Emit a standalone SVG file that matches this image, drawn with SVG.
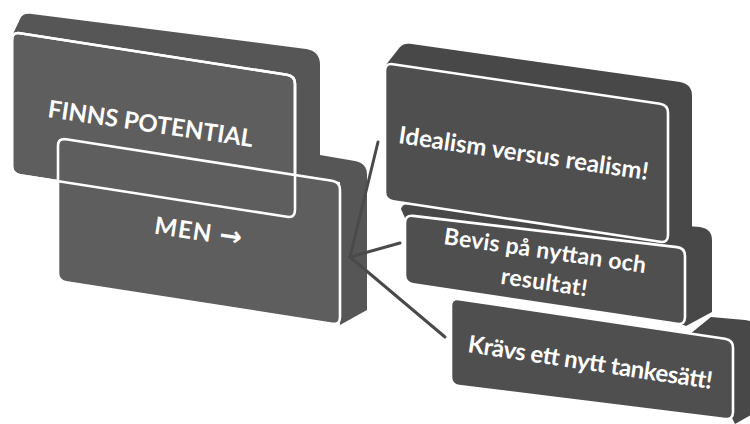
<svg xmlns="http://www.w3.org/2000/svg" xmlns:xlink="http://www.w3.org/1999/xlink" width="750" height="424" viewBox="0 0 750 424">
<style>
.lface{fill:#5e5e5e}
.lslab{fill:#565656}
.rface{fill:#4f4f4f}
.rslab{fill:#484848}
.ol{fill:none;stroke:#ffffff;stroke-width:2.6}
.conn{stroke:#4a4a4a;stroke-width:3;fill:none;stroke-linecap:round}
.t{fill:#ffffff;font-family:Lato,"Open Sans","Liberation Sans",sans-serif;font-weight:700;text-anchor:middle}
.arr{font-family:"DejaVu Sans",sans-serif;font-weight:bold}
</style>
<rect width="750" height="424" fill="#ffffff"/>
<g id="node-finns">
<path class="lslab" d="M12,36 L21,17 Q24,13 30,13.8 L306,49 Q320,51 320,65 L320,205 L295,218 Z"/>
<path class="lface" d="M12,40 Q12,32 20,33.2 L287,74.8 Q295,76 295,84 L295,210 Q295,218 287,216.8 L20,175.2 Q12,174 12,166 Z"/>
<path id="finns-ol" class="ol" d="M12,40 Q12,32 20,33.2 L287,74.8 Q295,76 295,84 L295,210 Q295,218 287,216.8 L20,175.2 Q12,174 12,166 Z"/>
<text class="t" transform="translate(149.5,132) rotate(8.3)" font-size="24" textLength="207" lengthAdjust="spacing">FINNS POTENTIAL</text>
</g>
<g id="node-men">
<path class="lslab" d="M320,155 L355,161 Q367,163 367,175 L367,310 L340,325 L340,182 L320,179 Z"/>
<path class="lface" d="M58,146 Q58,138 66,139.25 L332,180.75 Q340,182 340,190 L340,317 Q340,325 332,323.75 L66,282.25 Q58,281 58,273 Z"/>
<path class="ol" d="M58,146 Q58,138 66,139.25 L332,180.75 Q340,182 340,190 L340,317 Q340,325 332,323.75 L66,282.25 Q58,281 58,273 Z"/>
<text class="t" transform="translate(197,240) rotate(8.5)" font-size="24" textLength="88" lengthAdjust="spacing">MEN <tspan class="arr" font-size="27">→</tspan></text>
</g>
<use xlink:href="#finns-ol"/>
<g id="connectors">
<line class="conn" x1="350" y1="257" x2="378" y2="142"/>
<line class="conn" x1="350" y1="257" x2="400" y2="243"/>
<line class="conn" x1="350" y1="257" x2="445" y2="337"/>
</g>
<g id="node-kravs">
<path class="rslab" d="M690,334 L711,317 L745,320 Q760,322 760,330 L760,410 L735,424 Z"/>
<path class="rface" d="M451,306 Q451,298 459,299.2 L725,338.8 Q733,340 733,348 L733,412 Q733,420 725,419 L459,386 Q451,385 451,377 Z"/>
<path class="ol" d="M451,306 Q451,298 459,299.2 L725,338.8 Q733,340 733,348 L733,412 Q733,420 725,419 L459,386 Q451,385 451,377 Z"/>
<text class="t" transform="translate(589,370.5) rotate(8.6)" font-size="24" textLength="247" lengthAdjust="spacing">Krävs ett nytt tankesätt!</text>
</g>
<g id="node-bevis">
<path class="rslab" d="M405,218 L401,209 Q402,204 408,204.3 L700,227 Q712,229 712,240 L712,312 L686,326 Z"/>
<path class="rface" d="M405,223 Q405,215 413,215.9 L677,247.1 Q685,248 685,256 L685,317 Q685,325 677,323.8 L413,284.2 Q405,283 405,275 Z"/>
<path class="ol" d="M405,223 Q405,215 413,215.9 L677,247.1 Q685,248 685,256 L685,317 Q685,325 677,323.8 L413,284.2 Q405,283 405,275 Z"/>
<text class="t" transform="translate(544,258.5) rotate(8.2)" font-size="23" textLength="204" lengthAdjust="spacing">Bevis på nyttan och</text>
<text class="t" transform="translate(543,290) rotate(8.4)" font-size="23" textLength="87" lengthAdjust="spacing">resultat!</text>
</g>
<g id="node-idealism">
<path class="rslab" d="M385,66 L400,47 Q404,43 410,43.8 L680,82 Q692,84 692,96 L692,228 L668,243 Z"/>
<path class="rface" d="M385,71 Q385,63 393,64.2 L660,103.8 Q668,105 668,113 L668,235 Q668,243 660,241.8 L393,201.2 Q385,200 385,192 Z"/>
<path class="ol" d="M385,71 Q385,63 393,64.2 L660,103.8 Q668,105 668,113 L668,235 Q668,243 660,241.8 L393,201.2 Q385,200 385,192 Z"/>
<text class="t" transform="translate(522.5,161.5) rotate(8.45)" font-size="24" textLength="252" lengthAdjust="spacing">Idealism versus realism!</text>
</g>
</svg>
